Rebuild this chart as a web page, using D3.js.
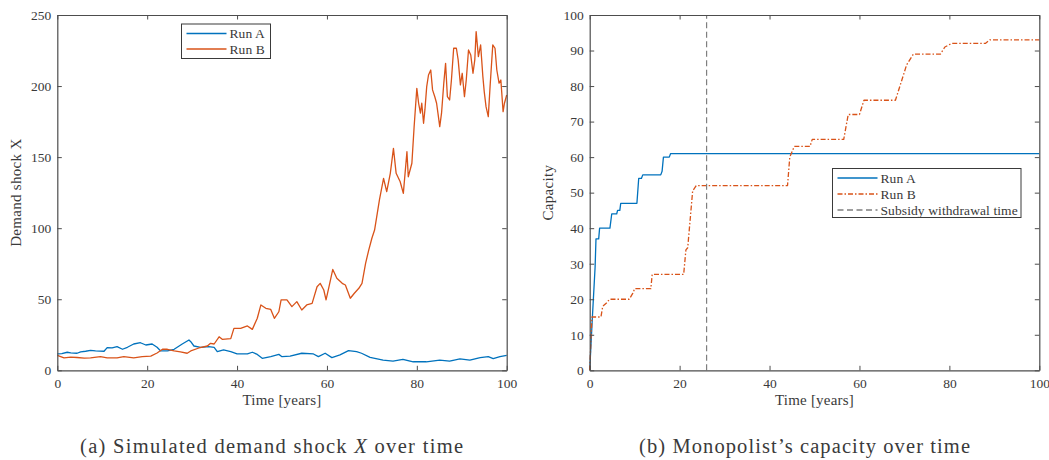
<!DOCTYPE html>
<html>
<head>
<meta charset="utf-8">
<script src="https://cdn.jsdelivr.net/npm/d3@7"></script>
<style>
  body { margin: 0; background: #fff; }
  svg text { font-family: "Liberation Serif", "Times New Roman", serif; fill: #3a3a3a; }
</style>
</head>
<body>
<svg id="chart" width="1049" height="460"></svg>
<script>
// panel (a): demand shock, [time, value]
const shockA = [
  [0, 11.5], [1, 11.8], [2.2, 12.7], [3, 12.2], [4.4, 12], [5.2, 13], [6.3, 13.4], [7.4, 14], [8.5, 13.6],
  [10.4, 13.4], [11.1, 16], [12.2, 15.8], [13.3, 16.6], [14.5, 14.8], [15.6, 16.2], [17, 18.5], [18.5, 19.4],
  [19.7, 17.8], [21.1, 18.5], [22.2, 16.2], [23, 13.6], [24.5, 13.6], [26, 14.8], [27.8, 18.5], [29.3, 21.3],
  [29.7, 20.1], [30.4, 17.1], [31.9, 16.2], [33.7, 16.6], [34.9, 16.2], [35.6, 13.1], [37, 14.3], [38.6, 13.1],
  [40, 11.5], [42.3, 11.5], [43.4, 12.7], [44.5, 11.2], [45.6, 8.4], [47.5, 9.6], [49.3, 11.2], [50, 9.6],
  [51.8, 10], [54.4, 12], [57, 11.5], [58.1, 9.6], [59.6, 12], [61.1, 8.9], [62.9, 10.8], [64.8, 13.8],
  [66.6, 13.1], [67.7, 12], [69.6, 9.1], [72.5, 7.2], [74.7, 6.5], [76.9, 7.7], [79.2, 6], [82.1, 6],
  [85.1, 7.2], [87.3, 6.5], [89.6, 8], [91.8, 7.2], [94.1, 8.9], [95.9, 9.6], [97, 8.2], [98.5, 9.6], [100, 10.5]
];
const shockB = [
  [0, 10.5], [1.5, 8.7], [3, 9.2], [4.4, 9], [6, 8.6], [7.4, 8.7], [9.6, 9.6], [11.1, 8.7], [13.3, 8.7],
  [14.8, 9.6], [17, 8.7], [18.9, 9.6], [20.8, 10], [22.2, 12.2], [23.4, 14.8], [24.5, 14.8], [26, 13.6],
  [27.4, 12.9], [28.9, 12], [29.7, 13.6], [31.5, 15.7], [33.4, 17.1], [34.1, 19], [34.9, 18.5], [36, 23.6],
  [36.7, 21.8], [38.6, 22.3], [39.3, 29.5], [40.8, 29.5], [42.3, 31.2], [43.4, 28.8], [44.5, 36.6], [45.3, 46],
  [46.4, 43.6], [47.5, 42.8], [48.3, 36.6], [49.3, 41.2], [49.8, 49.5], [51.1, 49.5], [52.2, 44.8], [53.3, 48.3],
  [54.4, 42.4], [55.5, 46], [56.7, 47.1], [57.8, 58.8], [58.5, 61.2], [59.3, 56.5], [59.8, 49.5], [60.4, 58],
  [61.3, 71], [62.2, 64.7], [63.4, 61.2], [64.1, 60], [65.2, 50.7], [66.1, 54.2], [67.1, 57.7], [67.8, 61.2],
  [68.6, 75.3], [69.3, 84.6], [70, 92.9], [70.6, 98.7], [71.7, 120.3], [72.6, 135], [73.3, 125.7], [74.1, 138.6],
  [74.8, 156.2], [75.4, 138.6], [76.3, 132.7], [77, 124.5], [77.8, 153.8], [78.1, 136.2], [78.9, 145.7],
  [79.4, 171.4], [80, 198.4], [80.4, 187.9], [80.8, 180.9], [81.1, 187.9], [81.5, 173.8], [81.8, 183.2],
  [82.2, 199.6], [82.6, 207.8], [83.1, 211.3], [83.5, 197.3], [84, 192.5], [84.4, 187.9], [84.7, 180.9],
  [85.1, 171.4], [85.5, 180.9], [86, 202], [86.4, 216], [86.8, 192.5], [87.3, 190.2], [87.7, 204.3],
  [88.2, 226.6], [88.8, 226.6], [89.2, 218.4], [89.7, 200.8], [90.1, 209], [90.6, 192.5], [91, 204.3],
  [91.5, 225.4], [92, 221.9], [92.5, 209], [92.9, 218.4], [93.2, 238.3], [93.7, 220.7], [94.2, 228.9],
  [94.7, 206.6], [95, 196.1], [95.4, 185.5], [95.9, 178.5], [96.3, 199.6], [96.9, 228.9], [97.4, 226.6],
  [97.8, 211.3], [98.3, 202], [98.7, 204.3], [99.2, 182], [99.5, 187.9], [100, 193.7]
];

// panel (b): capacity, [time, value]
const capA = [
  [0, 0], [0.6, 15], [1.2, 29], [1.4, 37], [2.0, 37], [2.2, 40], [4.5, 40], [4.9, 44], [6.0, 44], [6.2, 45],
  [6.7, 45], [6.9, 47], [10.5, 47], [10.9, 54], [11.5, 54], [11.8, 55], [15.8, 55], [16.1, 56], [16.4, 60],
  [17.7, 60], [18.0, 61], [100, 61]
];
const capB = [
  [0, 0], [0.5, 15], [2.5, 15], [2.9, 18], [3.8, 19], [4.4, 20], [8.8, 20], [9.6, 21.7], [10, 23], [13.6, 23],
  [13.9, 27], [20.9, 27], [21.4, 33.9], [21.8, 34.5], [22.9, 50.5], [23.7, 52], [44, 52], [44.5, 60],
  [45.5, 63], [49, 63], [49.5, 65], [56.5, 65], [57.5, 72], [60, 72], [61, 76], [68, 76], [69, 80],
  [70.5, 86], [72, 89], [78, 89], [79, 91], [80.5, 92], [88, 92], [89, 93], [100, 93]
];
const withdrawalTime = 26;

const xTicks = [0, 20, 40, 60, 80, 100];
const shockTicks = [0, 50, 100, 150, 200, 250];
const capTicks = [0, 10, 20, 30, 40, 50, 60, 70, 80, 90, 100];

const colorA = "#0072BD";
const colorB = "#D95319";
const axisColor = "#4d4d4d";

const svg = d3.select("#chart");
const plotTop = 15, plotBottom = 370.3;

const drawPanel = (opts) => {
  const x = d3.scaleLinear().domain([0, 100]).range([opts.left, opts.right]);
  const y = d3.scaleLinear().domain(opts.yDomain).range([plotBottom, plotTop]);
  const g = svg.append("g");

  const line = d3.line().x((d) => x(d[0])).y((d) => y(d[1]));
  opts.series.forEach((s) => {
    g.append("path")
      .datum(s.data)
      .attr("d", line)
      .attr("fill", "none")
      .attr("stroke", s.color)
      .attr("stroke-width", 1.3)
      .attr("stroke-linejoin", "round")
      .attr("stroke-dasharray", s.dash || null);
  });

  if (opts.vline != null) {
    g.append("line")
      .attr("x1", x(opts.vline)).attr("x2", x(opts.vline))
      .attr("y1", y(opts.yDomain[0])).attr("y2", y(opts.yDomain[1]))
      .attr("stroke", "#7f7f7f")
      .attr("stroke-width", 1.2)
      .attr("stroke-dasharray", "6,3.5");
  }

  // axes, with inward ticks on all sides
  const styleAxis = (sel) => {
    sel.select(".domain").attr("stroke", axisColor).attr("stroke-width", 1.2);
    sel.selectAll(".tick line").attr("stroke", axisColor).attr("stroke-width", 1);
    sel.selectAll(".tick text").style("font-size", "13.5px").attr("fill", "#3a3a3a");
  };
  g.append("g").attr("transform", `translate(0,${plotBottom})`)
    .call(d3.axisBottom(x).tickValues(xTicks).tickSizeInner(-4.5).tickSizeOuter(0).tickPadding(8.5))
    .call(styleAxis);
  g.append("g").attr("transform", `translate(0,${plotTop})`)
    .call(d3.axisTop(x).tickValues(xTicks).tickSizeInner(-4.5).tickSizeOuter(0).tickFormat(""))
    .call(styleAxis);
  g.append("g").attr("transform", `translate(${opts.left},0)`)
    .call(d3.axisLeft(y).tickValues(opts.yTicks).tickSizeInner(-4.5).tickSizeOuter(0).tickPadding(6))
    .call(styleAxis);
  g.append("g").attr("transform", `translate(${opts.right},0)`)
    .call(d3.axisRight(y).tickValues(opts.yTicks).tickSizeInner(-4.5).tickSizeOuter(0).tickFormat(""))
    .call(styleAxis);

  const mid = (opts.left + opts.right) / 2;
  g.append("text")
    .attr("x", mid).attr("y", 405)
    .attr("text-anchor", "middle")
    .style("font-size", "15px")
    .style("letter-spacing", "0.2px")
    .text("Time [years]");
  g.append("text")
    .attr("transform", `translate(${opts.yLabelX},${(plotTop + plotBottom) / 2}) rotate(-90)`)
    .attr("text-anchor", "middle")
    .style("font-size", "15px")
    .style("letter-spacing", "0.3px")
    .text(opts.yLabel);

  // caption below the panel, stretched to the width it takes in the figure
  const cap = g.append("text")
    .attr("x", opts.captionX).attr("y", 453)
    .attr("textLength", opts.captionW)
    .attr("lengthAdjust", "spacing")
    .style("font-size", "20.5px")
    .attr("fill", "#2a2a2a");
  opts.caption.forEach((part) => {
    cap.append("tspan").attr("font-style", part.italic ? "italic" : null).text(part.text);
  });

  // legend
  const lg = g.append("g");
  lg.append("rect")
    .attr("x", opts.legend.x).attr("y", opts.legend.y)
    .attr("width", opts.legend.w).attr("height", opts.legend.h)
    .attr("fill", "#fff").attr("stroke", "#3a3a3a").attr("stroke-width", 1);
  opts.legend.items.forEach((it, i) => {
    const yy = opts.legend.y + 9.5 + i * opts.legend.step;
    lg.append("line")
      .attr("x1", opts.legend.x + 5).attr("x2", opts.legend.x + 45)
      .attr("y1", yy).attr("y2", yy)
      .attr("stroke", it.color).attr("stroke-width", 1.3)
      .attr("stroke-dasharray", it.dash || null);
    lg.append("text")
      .attr("x", opts.legend.x + 48).attr("y", yy + 4.5)
      .style("font-size", "13.5px")
      .style("letter-spacing", "0.1px")
      .text(it.label);
  });
};

drawPanel({
  left: 57.3, right: 506.7,
  yDomain: [0, 250], yTicks: shockTicks,
  series: [{ data: shockA, color: colorA }, { data: shockB, color: colorB }],
  yLabel: "Demand shock X", yLabelX: 21,
  caption: [{ text: "(a) Simulated demand shock " }, { text: "X", italic: true }, { text: " over time" }],
  captionX: 80, captionW: 383,
  legend: {
    x: 181.5, y: 24, w: 89, h: 34.5, step: 15.5,
    items: [{ label: "Run A", color: colorA }, { label: "Run B", color: colorB }]
  }
});

drawPanel({
  left: 589.7, right: 1039.3,
  yDomain: [0, 100], yTicks: capTicks,
  series: [{ data: capA, color: colorA }, { data: capB, color: colorB, dash: "5,2,1.5,2" }],
  vline: withdrawalTime,
  yLabel: "Capacity", yLabelX: 553,
  caption: [{ text: "(b) Monopolist\u2019s capacity over time" }],
  captionX: 639, captionW: 331,
  legend: {
    x: 832.5, y: 168.5, w: 188.5, h: 49, step: 16,
    items: [
      { label: "Run A", color: colorA },
      { label: "Run B", color: colorB, dash: "5,2,1.5,2" },
      { label: "Subsidy withdrawal time", color: "#7f7f7f", dash: "6,3.5" }
    ]
  }
});
</script>
</body>
</html>
